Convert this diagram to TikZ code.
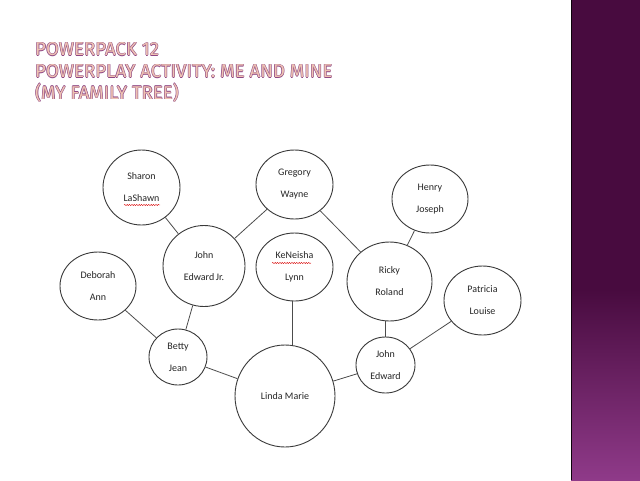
\documentclass[tikz,border=0pt]{standalone}
\usepackage{fontspec}
\setmainfont{Carlito}
\newfontfamily\titlefont{Fira Sans}
\usepackage{xcolor}
\definecolor{tFill}{HTML}{EEC2B2}
\definecolor{tLine}{HTML}{8E4684}
\definecolor{barTop}{HTML}{480B3F}
\definecolor{barLow}{HTML}{8F3A89}
\definecolor{inkGray}{HTML}{3A3A3A}
\usetikzlibrary{shapes.geometric,calc,decorations.pathmorphing}
% outlined title line
\newcommand\outl[1]{%
  \makebox[0pt][l]{\color{tLine}\hspace{0.55pt}#1}%
  \makebox[0pt][l]{\color{tLine}\hspace{-0.55pt}#1}%
  \makebox[0pt][l]{\color{tLine}\raisebox{0.55pt}{#1}}%
  \makebox[0pt][l]{\color{tLine}\raisebox{-0.55pt}{#1}}%
  {\color{tFill}#1}}

\begin{document}
\begin{tikzpicture}[x=1pt, y=-1pt,
  person/.style={ellipse, draw=inkGray, line width=0.9pt, inner sep=0pt, align=center,
    text=black!85, font=\fontsize{10}{22}\selectfont},
  link/.style={draw=black!70, line width=0.8pt},
  spell/.style={red!85!black, line width=0.4pt, decorate,
    decoration={snake, amplitude=0.6pt, segment length=2.4pt}}]
\useasboundingbox (0,0) rectangle (640,480);
\fill[white] (0,0) rectangle (640,480);
% side bar
\fill[barTop] (571,0) rectangle (640,290);
\shade[top color=barTop, bottom color=barLow] (571,289.5) rectangle (640,480);
\draw[black!80!barTop, line width=1pt] (571,0) -- (571,480);
% title
\node[anchor=north west, align=left, inner sep=0pt, font=\titlefont\fontsize{18.6}{21.8}\selectfont]
  (title) at (35,42) {\outl{POWERPACK 12}\\ \outl{POWERPLAY ACTIVITY: ME AND MINE}\\ \outl{(MY FAMILY TREE)}};
% people
\node[person, minimum width=77pt, minimum height=75pt] (sharon) at (141.5,187.5) {Sharon\\LaShawn};
\node[person, minimum width=77pt, minimum height=69pt] (gregory) at (294.5,184.5) {Gregory\\Wayne};
\node[person, minimum width=82pt, minimum height=81pt] (johnjr) at (204,266) {John\\Edward\,Jr.};
\node[person, minimum width=77pt, minimum height=68pt] (keneisha) at (294.5,267) {KeNeisha\\Lynn};
\node[person, minimum width=76pt, minimum height=68pt] (henry) at (430,199) {Henry\\Joseph};
\node[person, minimum width=85pt, minimum height=79pt] (ricky) at (389.5,281.5) {Ricky\\Roland};
\node[person, minimum width=77pt, minimum height=69pt] (patricia) at (482.5,300.5) {Patricia\\Louise};
\node[person, minimum width=76pt, minimum height=68pt] (deborah) at (98,286) {Deborah\\Ann};
\node[person, minimum width=58pt, minimum height=56pt] (betty) at (178,357) {Betty\\Jean};
\node[person, minimum width=100pt, minimum height=102pt] (linda) at (285,396) {Linda Marie};
\node[person, minimum width=59pt, minimum height=56pt] (johned) at (385.5,365) {John\\Edward};
% links
\draw[link] (sharon) -- (johnjr);
\draw[link] (gregory) -- (johnjr);
\draw[link] (gregory) -- (ricky);
\draw[link] (henry) -- (ricky);
\draw[link] ($(keneisha.south)+(-2.5,0)$) -- ($(keneisha.south |- linda.north)+(-2.5,0)$);
\draw[link] (johnjr) -- (betty);
\draw[link] (deborah) -- (betty);
\draw[link] (betty) -- (linda);
\draw[link] (linda) -- (johned);
\draw[link] (ricky.south -| johned.north) -- (johned.north);
\draw[link] (patricia) -- (johned);
% spelling marks
\draw[spell] ($(sharon)+(-17.5,17.5)$) -- ++(36,0);
\draw[spell] ($(keneisha)+(-22.5,-4)$) -- ++(39,0);
\end{tikzpicture}
\end{document}
